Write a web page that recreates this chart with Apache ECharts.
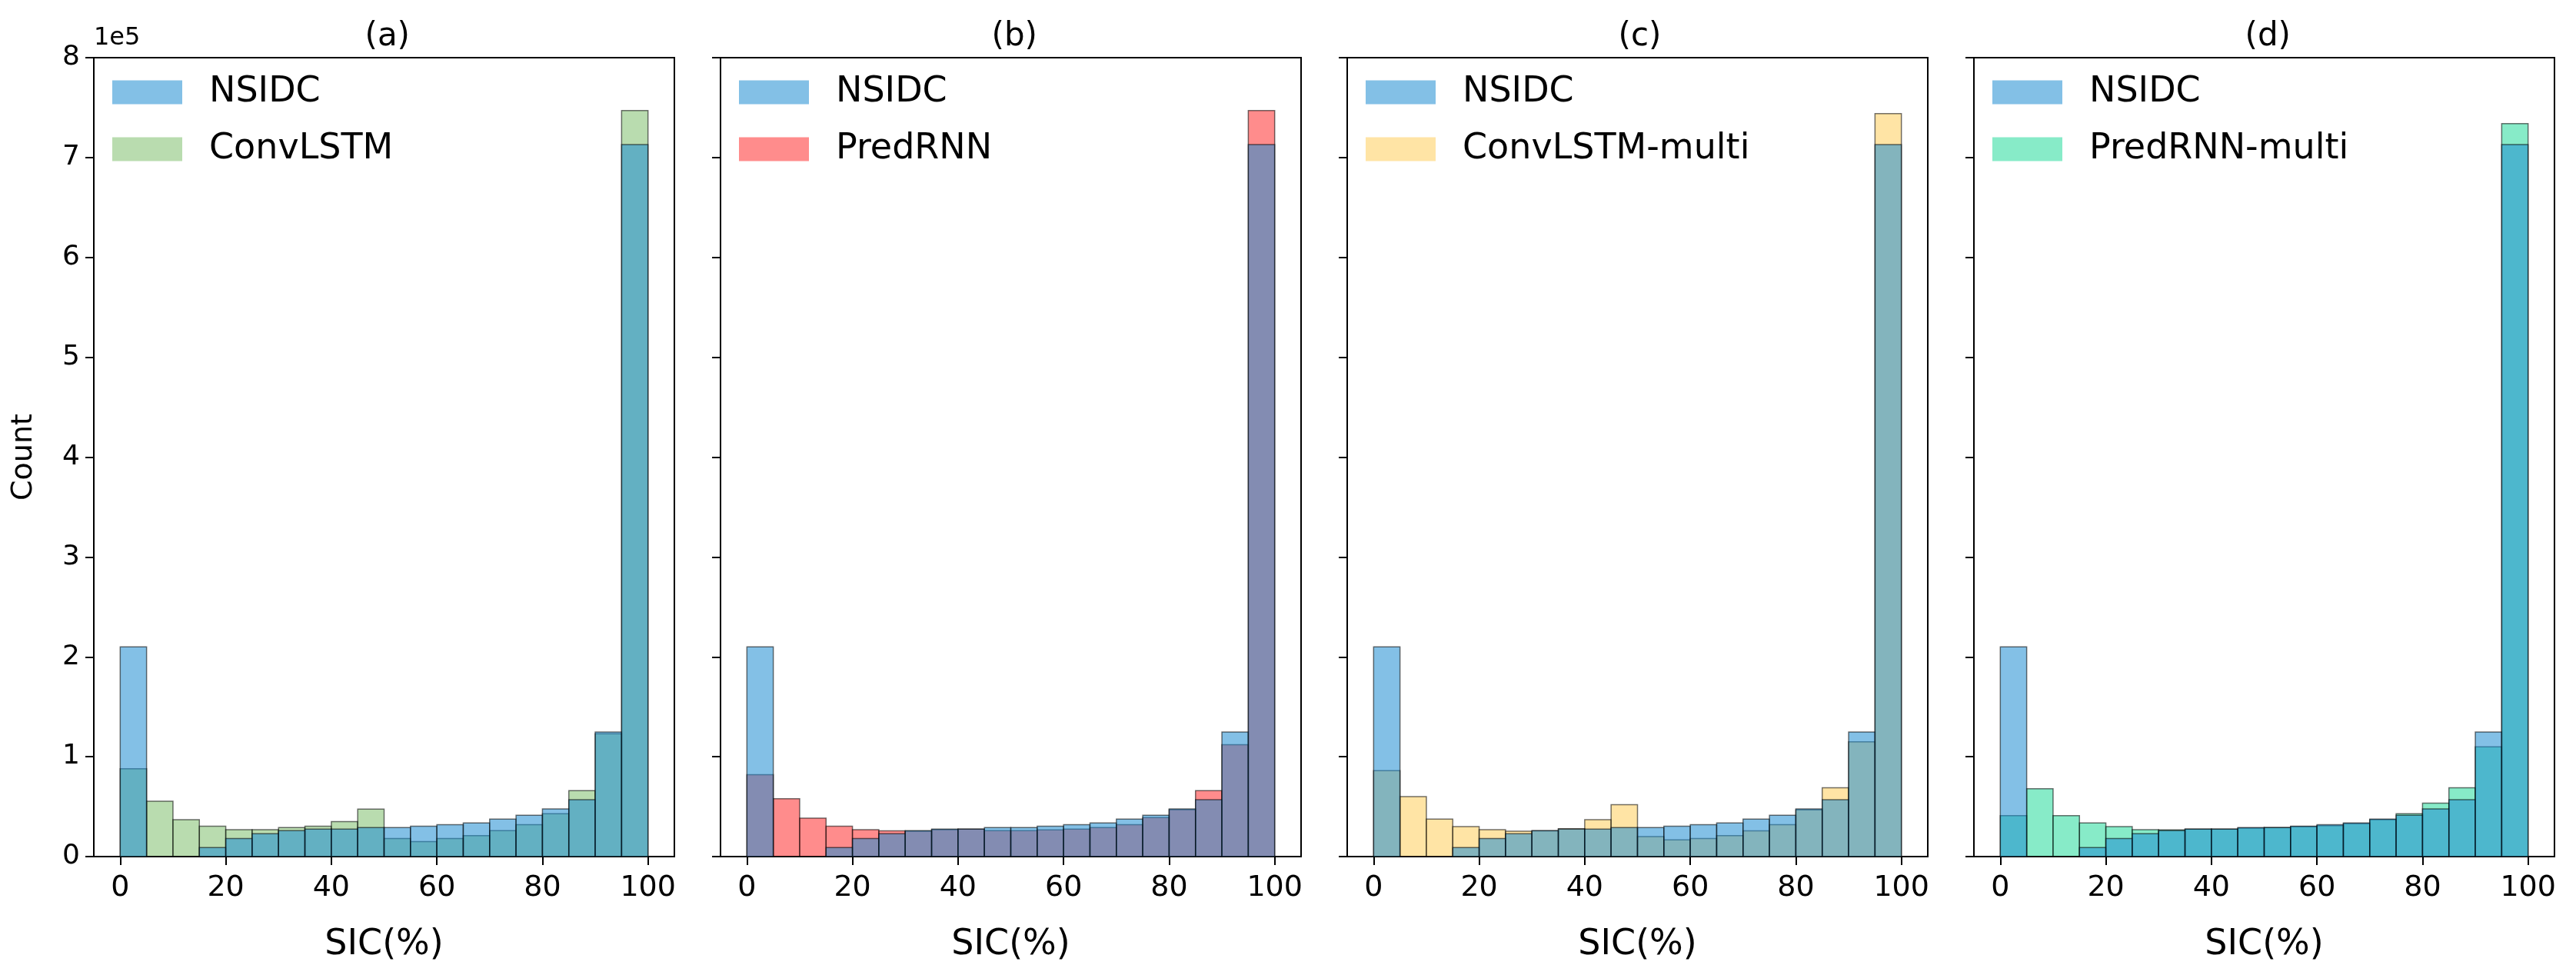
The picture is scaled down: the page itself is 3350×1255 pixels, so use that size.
<!DOCTYPE html>
<html>
<head>
<meta charset="utf-8">
<title>SIC histograms</title>
<script src="https://cdn.jsdelivr.net/npm/echarts@6/dist/echarts.min.js"></script>
<style>
  html, body { margin: 0; padding: 0; background: #fff; }
  #chart { width: 3350px; height: 1255px; }
</style>
</head>
<body>
<div id="chart"></div>
<script>
// bin edges (SIC %), 20 bins of 5
const binStart = [0, 5, 10, 15, 20, 25, 30, 35, 40, 45, 50, 55, 60, 65, 70, 75, 80, 85, 90, 95];
const binEnd = [5, 10, 15, 20, 25, 30, 35, 40, 45, 50, 55, 60, 65, 70, 75, 80, 85, 90, 95, 100];
const xTicks = [0, 20, 40, 60, 80, 100];
const panelTitles = ["(a)", "(b)", "(c)", "(d)"];

// counts per bin
const nsidc = [210000, 0, 0, 9000, 18000, 23000, 26000, 27500, 27500, 29000, 29000, 30500, 32000, 33600, 37500, 41300, 47700, 57000, 124700, 713000];
const convLSTM = [88000, 55400, 37000, 30500, 27000, 27000, 29000, 30500, 35000, 47500, 18000, 15000, 18000, 21000, 26000, 32000, 43000, 66000, 123000, 747000];
const predRNN = [82000, 58000, 38500, 30500, 27000, 25700, 25500, 27000, 27500, 26000, 26000, 26700, 27500, 29000, 32000, 39000, 47000, 66000, 112000, 747000];
const convLSTMMulti = [86000, 60000, 37500, 30000, 27000, 25400, 25700, 28000, 37000, 52000, 20000, 16700, 18000, 21000, 25700, 32000, 46700, 69000, 115000, 744000];
const predRNNMulti = [41000, 68000, 41000, 33600, 30000, 27000, 26700, 27500, 27500, 28500, 29000, 30000, 31000, 33000, 37000, 43000, 53600, 69000, 110000, 734000];

const models = [
  { name: "ConvLSTM", data: convLSTM, color: "rgba(115,185,95,0.5)" },
  { name: "PredRNN", data: predRNN, color: "rgba(255,25,25,0.5)" },
  { name: "ConvLSTM-multi", data: convLSTMMulti, color: "rgba(255,201,75,0.5)" },
  { name: "PredRNN-multi", data: predRNNMulti, color: "rgba(15,215,145,0.5)" }
];
const nsidcColor = "rgba(30,140,210,0.55)";

const font = "DejaVu Sans";
const lefts = [122, 937, 1752, 2567];
const gridW = 755, gridTop = 75, gridH = 1039;

function toData(vals) {
  return vals.map((v, i) => [binStart[i], binEnd[i], v]);
}

function histSeries(name, vals, color, idx) {
  return {
    type: "custom",
    name: name,
    xAxisIndex: idx,
    yAxisIndex: idx,
    itemStyle: { color: color },
    data: toData(vals),
    encode: { x: [0, 1], y: 2 },
    renderItem: function (params, api) {
      let p0 = api.coord([api.value(0), 0]);
      let p1 = api.coord([api.value(1), api.value(2)]);
      return {
        type: "rect",
        shape: { x: p0[0], y: p1[1], width: p1[0] - p0[0], height: p0[1] - p1[1] },
        style: { fill: color, stroke: "rgba(0,0,0,0.55)", lineWidth: 1.5 }
      };
    }
  };
}

let grids = [], xAxes = [], yAxes = [], series = [], legends = [], titles = [];
for (let i = 0; i < 4; i++) {
  grids.push({
    left: lefts[i], top: gridTop, width: gridW, height: gridH,
    containLabel: false, outerBoundsMode: "none",
    show: true, borderColor: "#000", borderWidth: 2, backgroundColor: "transparent"
  });
  xAxes.push({
    type: "value", gridIndex: i, min: -5, max: 105,
    name: "SIC(%)", nameLocation: "middle", nameGap: 92,
    nameTextStyle: { fontFamily: font, fontSize: 46, color: "#000" },
    axisLine: { show: true, onZero: false, lineStyle: { color: "#000", width: 2 } },
    axisTick: { show: true, inside: false, length: 11, customValues: xTicks, lineStyle: { color: "#000", width: 2 } },
    axisLabel: { show: true, customValues: xTicks, margin: 22, fontFamily: font, fontSize: 38, color: "#000" },
    splitLine: { show: false }
  });
  yAxes.push({
    type: "value", gridIndex: i, min: 0, max: 800000, interval: 100000,
    name: i === 0 ? "Count" : "", nameLocation: "middle", nameGap: 72,
    nameTextStyle: { fontFamily: font, fontSize: 38, color: "#000" },
    axisLine: { show: true, onZero: false, lineStyle: { color: "#000", width: 2 } },
    axisTick: { show: true, inside: false, length: 11, lineStyle: { color: "#000", width: 2 } },
    axisLabel: {
      show: i === 0, margin: 18, fontFamily: font, fontSize: 36, color: "#000",
      formatter: v => String(v / 100000)
    },
    splitLine: { show: false }
  });
  // model drawn first, NSIDC on top
  series.push(histSeries(models[i].name, models[i].data, models[i].color, i));
  series.push(histSeries("NSIDC", nsidc, nsidcColor, i));
  legends.push({
    orient: "vertical", left: lefts[i] + 19, top: 92,
    data: ["NSIDC", models[i].name],
    icon: "rect", itemWidth: 91, itemHeight: 31, itemGap: 28,
    selectedMode: false,
    textStyle: { fontFamily: font, fontSize: 46, color: "#000", lineHeight: 40, padding: [0, 0, 0, 30] }
  });
  titles.push({
    text: panelTitles[i], left: lefts[i] + gridW / 2 - 30, top: 22,
    textStyle: { fontFamily: font, fontSize: 42, fontWeight: "normal", color: "#000" }
  });
}

let myChart = echarts.init(document.getElementById("chart"), null, { renderer: "canvas" });
let option = {
  animation: false,
  backgroundColor: "#fff",
  title: titles,
  grid: grids,
  xAxis: xAxes,
  yAxis: yAxes,
  legend: legends,
  series: series,
  graphic: [
    { type: "text", left: 122, top: 34, style: { text: "1e5", fontFamily: font, fontSize: 32, fill: "#000" } }
  ]
};
myChart.setOption(option);
</script>
</body>
</html>
